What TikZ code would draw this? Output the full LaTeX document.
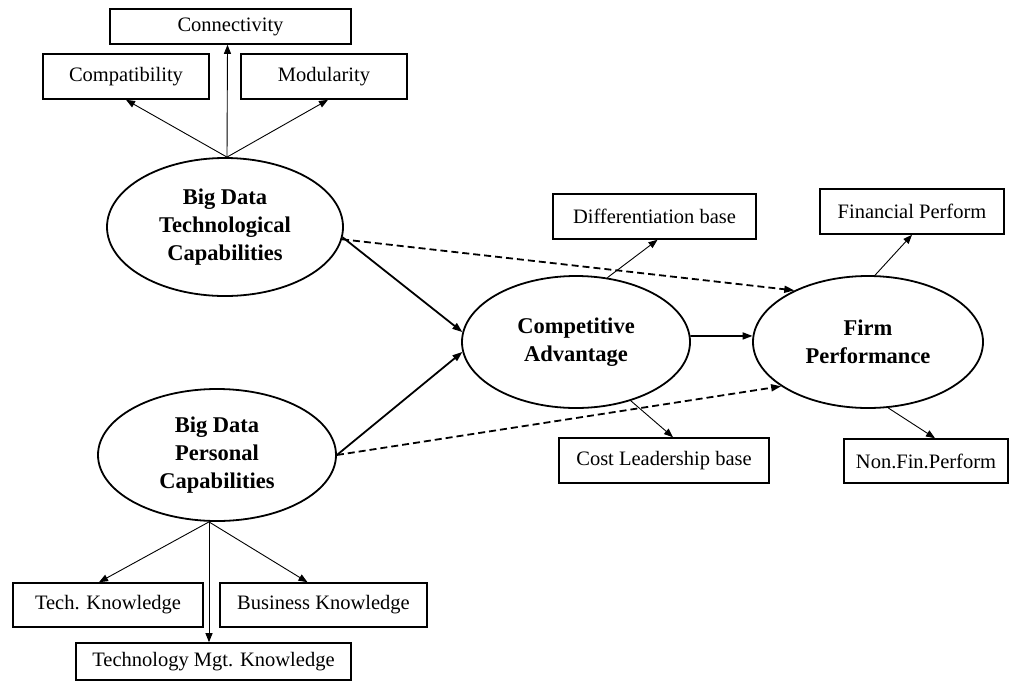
\documentclass[tikz,border=0pt]{standalone}
\usepackage{fontspec}
\setmainfont{Liberation Serif}
\usetikzlibrary{shapes.geometric,arrows.meta,calc}
\begin{document}
\begin{tikzpicture}[x=1pt,y=-1pt,
  box/.style={draw,line width=1.6pt,rectangle,inner sep=0pt,font=\fontsize{20.5}{24}\selectfont},
  ell/.style={draw,line width=1.8pt,ellipse,inner sep=0pt,align=center,font=\fontsize{22.5}{28}\selectfont\bfseries},
  thin/.style={line width=0.9pt,-{Triangle[length=9pt,width=7pt]}},
  main/.style={line width=1.8pt,-{Triangle[length=10pt,width=7pt]}},
  dsh/.style={line width=1.8pt,dash pattern=on 7pt off 4pt,-{Triangle[length=10pt,width=7pt]}}]
\useasboundingbox (0,0) rectangle (1010,681);
% boxes
\node[box,minimum width=241pt,minimum height=35pt] (conn) at (230.5,26.5) {Connectivity};
\node[box,minimum width=166pt,minimum height=45pt] (compat) at (126,76.5) {Compatibility};
\node[box,minimum width=166pt,minimum height=45pt] (modul) at (324,76.5) {Modularity};
\node[box,minimum width=190pt,minimum height=44pt] (techk) at (108,605) {Tech. Knowledge};
\node[box,minimum width=207pt,minimum height=44pt] (busk) at (323.5,605) {Business Knowledge};
\node[box,minimum width=275pt,minimum height=37pt] (tmk) at (213.5,661.5) {Technology Mgt. Knowledge};
\node[box,minimum width=203pt,minimum height=45pt] (diff) at (654.5,216.5) {Differentiation base};
\node[box,minimum width=210pt,minimum height=45pt] (cost) at (664,460.5) {Cost Leadership base};
\node[box,minimum width=184pt,minimum height=45pt] (fin) at (912,211.5) {Financial Perform};
\node[box,minimum width=164pt,minimum height=44pt] (nonfin) at (926,461) {Non.Fin.Perform};
% ellipses
\node[ell,minimum width=236pt,minimum height=138pt] (T) at (225,227) {Big Data\\Technological\\Capabilities};
\node[ell,minimum width=238pt,minimum height=132pt] (P) at (217,455) {Big Data\\Personal\\Capabilities};
\node[ell,minimum width=228pt,minimum height=132pt] (CA) at (576,342) {Competitive\\Advantage};
\node[ell,minimum width=230pt,minimum height=132pt] (FP) at (868,342) {Firm\\Performance};
% indicator arrows
\draw[thin] ($(T.north)+(2,0)$) -- (compat.south);
\draw[thin] ($(T.north)+(2,0)$) -- ($(conn.south)+(-3,0)$);
\draw[thin] ($(T.north)+(2,0)$) -- ($(modul.south)+(4,0)$);
\draw[thin] ($(P.south)+(-8,0)$) -- ($(techk.north)+(-9,0)$);
\draw[thin] ($(P.south)+(-8,0)$) -- ($(busk.north)+(-16,0)$);
\draw[thin] ($(P.south)+(-8,0)$) -- ($(tmk.north)+(-4.5,0)$);
\draw[thin] (CA.64) -- ($(diff.south)+(3,0)$);
\draw[thin] (CA.-47) -- ($(cost.north)+(9,0)$);
\draw[thin] (FP.84) -- (fin.south);
\draw[thin] (FP.-73) -- ($(nonfin.north)+(9,0)$);
% structural paths
\draw[main] (T.-5) -- (CA.175);
\draw[main] (P.east) -- (CA.185);
\draw[main] (CA.3) -- (FP.177);
\draw[dsh] (T.-6) -- (FP.145);
\draw[dsh] (P.east) -- (FP.207);
\end{tikzpicture}
\end{document}
